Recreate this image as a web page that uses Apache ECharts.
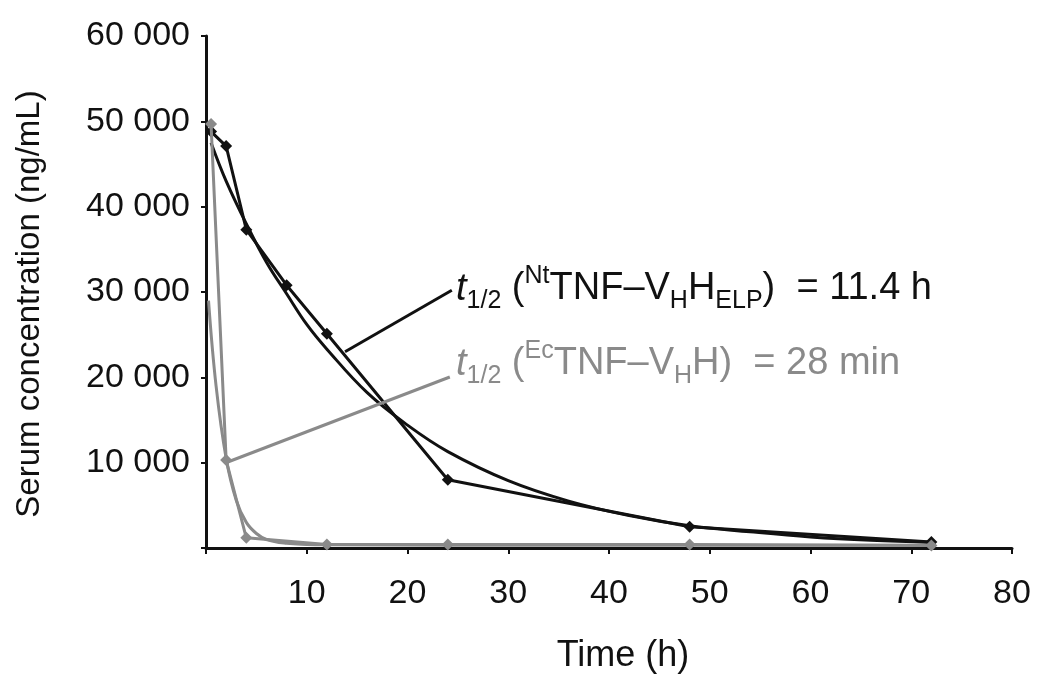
<!DOCTYPE html>
<html>
<head>
<meta charset="utf-8">
<script src="https://cdn.jsdelivr.net/npm/echarts@6/dist/echarts.min.js"></script>
<style>
html,body{margin:0;padding:0;background:#fff;}
#c{width:1050px;height:699px;}
</style>
</head>
<body>
<div id="c"></div>
<script>
// ---- data ----
var xTicks = [0, 10, 20, 30, 40, 50, 60, 70, 80];
var yTicks = [0, 10000, 20000, 30000, 40000, 50000, 60000];

// NtTNF-VHH-ELP (black) measured points
var ntTime  = [0.5, 2, 4, 8, 12, 24, 48, 72];
var ntConc  = [48800, 47100, 37300, 30800, 25100, 8000, 2500, 700];
// NtTNF-VHH-ELP fitted curve
var ntFitTime = [0.5, 2, 4, 6, 8, 10, 12, 16, 20, 24, 30, 36, 42, 48, 54, 60, 66, 72];
var ntFitConc = [47500, 43000, 38000, 33500, 29800, 26200, 23300, 18200, 14400, 11300, 7900, 5500, 3800, 2600, 1900, 1300, 900, 650];

// EcTNF-VHH (grey) measured points
var ecTime  = [0.5, 2, 4, 12, 24, 48, 72];
var ecConc  = [49700, 10300, 1200, 400, 400, 400, 300];
// EcTNF-VHH fitted curve
var ecFitTime = [0.25, 1, 2, 3, 4, 5, 6, 8, 10, 12, 24, 48, 72];
var ecFitConc = [29000, 19000, 10500, 5600, 3000, 1700, 1000, 550, 420, 380, 330, 330, 330];

// annotation leader lines (data coordinates)
var ntLeader = [[13.8, 23000], [24.4, 30200]];
var ecLeader = [[1.9, 9960], [24.2, 20040]];

var ntLabel = '{t|t}{s|1/2} ({p|Nt}TNF\u2013V{s|H}H{s|ELP})  = 11.4 h';
var ecLabel = '{t|t}{s|1/2} ({p|Ec}TNF\u2013V{s|H}H)  = 28 min';
var xName = 'Time (h)';
var yName = 'Serum concentration (ng/mL)';

function pairs(xs, ys){ return xs.map(function(x,i){ return [x, ys[i]]; }); }

var BLACK = '#111111';
var GREY = '#8a8a8a';
var FONT = '"Liberation Sans", Arial, Helvetica, sans-serif';

function rich(color){
  return {
    t: {fontFamily: FONT, fontSize: 38, fontStyle: 'italic', fill: color, lineHeight: 50},
    s: {fontFamily: FONT, fontSize: 25, fill: color, verticalAlign: 'bottom', lineHeight: 27},
    p: {fontFamily: FONT, fontSize: 25, fill: color, verticalAlign: 'top', lineHeight: 33}
  };
}

var chart = echarts.init(document.getElementById('c'), null, {renderer: 'canvas'});
var option = {
  animation: false,
  backgroundColor: '#ffffff',
  grid: {left: 206, right: 38, top: 36, bottom: 151, containLabel: false},
  xAxis: {
    type: 'value', min: xTicks[0], max: xTicks[xTicks.length-1], interval: 10,
    name: xName, nameLocation: 'middle', nameGap: 90,
    nameTextStyle: {fontFamily: FONT, fontSize: 36, color: BLACK, padding: [0, 0, 0, 28]},
    axisLine: {lineStyle: {color: BLACK, width: 3}},
    axisTick: {show: true, length: 6, lineStyle: {color: BLACK, width: 2}},
    axisLabel: {fontFamily: FONT, fontSize: 34, color: BLACK, margin: 29,
      formatter: function(v){ return v === 0 ? '' : String(v); }},
    splitLine: {show: false}
  },
  yAxis: {
    type: 'value', min: yTicks[0], max: yTicks[yTicks.length-1], interval: 10000,
    name: yName, nameLocation: 'middle', nameGap: 160, nameRotate: 90,
    nameTextStyle: {fontFamily: FONT, fontSize: 33, color: BLACK, padding: [0, 24, 0, 0]},
    axisLine: {lineStyle: {color: BLACK, width: 3}},
    axisTick: {show: true, length: 5, lineStyle: {color: BLACK, width: 2}},
    axisLabel: {fontFamily: FONT, fontSize: 34, color: BLACK, margin: 16,
      formatter: function(v){ return v === 0 ? '' : (v/1000) + ' 000'; }},
    splitLine: {show: false}
  },
  series: [
    {
      type: 'line', name: 'NtFit', data: pairs(ntFitTime, ntFitConc), smooth: 0.4,
      showSymbol: false, lineStyle: {color: BLACK, width: 3}, z: 2,
      markLine: {silent: true, symbol: ['none','none'], label: {show: false},
        lineStyle: {color: BLACK, width: 3, type: 'solid'},
        data: [[{coord: ntLeader[0]}, {coord: ntLeader[1]}]]}
    },
    {
      type: 'line', name: 'Nt', data: pairs(ntTime, ntConc), smooth: false,
      symbol: 'diamond', symbolSize: 12, itemStyle: {color: BLACK},
      lineStyle: {color: BLACK, width: 3}, z: 3
    },
    {
      type: 'line', name: 'EcFit', data: pairs(ecFitTime, ecFitConc), smooth: 0.4,
      showSymbol: false, lineStyle: {color: GREY, width: 3}, z: 4,
      markLine: {silent: true, symbol: ['none','none'], label: {show: false},
        lineStyle: {color: GREY, width: 3, type: 'solid'},
        data: [[{coord: ecLeader[0]}, {coord: ecLeader[1]}]]}
    },
    {
      type: 'line', name: 'Ec', data: pairs(ecTime, ecConc), smooth: false,
      symbol: 'diamond', symbolSize: 12, itemStyle: {color: GREY},
      lineStyle: {color: GREY, width: 3}, z: 5
    }
  ],
  graphic: [
    {type: 'text', left: 456, top: 264, z: 10,
      style: {text: ntLabel, fill: BLACK, font: '38px ' + FONT, lineHeight: 50, rich: rich(BLACK)}},
    {type: 'text', left: 456, top: 339, z: 10,
      style: {text: ecLabel, fill: GREY, font: '38px ' + FONT, lineHeight: 50, rich: rich(GREY)}}
  ]
};
chart.setOption(option);
</script>
</body>
</html>
